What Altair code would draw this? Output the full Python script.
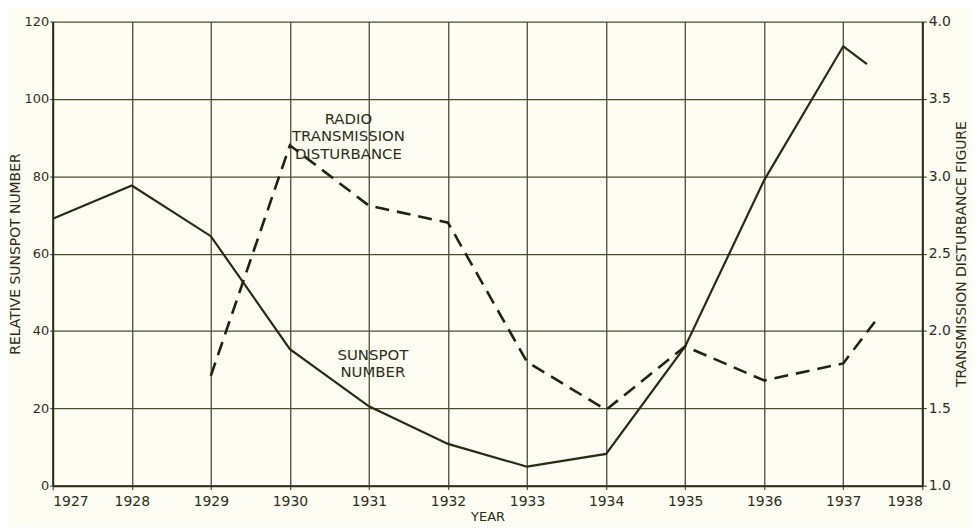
import altair as alt
import pandas as pd

# Sunspot number (left axis)
sun_years = [1927, 1928, 1929, 1930, 1931, 1932, 1933, 1934, 1935, 1936, 1937, 1937.3]
sun_values = [69, 77.6, 64.5, 35.3, 20.5, 10.8, 4.9, 8.2, 36, 79, 113.6, 109]

# Radio transmission disturbance figure (right axis)
dist_years = [1929, 1930, 1931, 1932, 1933, 1934, 1935, 1936, 1937, 1937.4]
dist_values = [1.71, 3.20, 2.81, 2.70, 1.80, 1.49, 1.90, 1.68, 1.79, 2.06]

year_ticks = list(range(1927, 1939))
left_ticks = [0, 20, 40, 60, 80, 100, 120]
right_ticks = [1.0, 1.5, 2.0, 2.5, 3.0, 3.5, 4.0]

label_lines = ["RADIO", "TRANSMISSION", "DISTURBANCE", "SUNSPOT", "NUMBER"]
label_x = [1930.74, 1930.74, 1930.74, 1931.05, 1931.05]
label_y = [94.8, 90.4, 85.8, 33.8, 29.4]

INK = "#2e2e18"
GRID = "#4c4c30"
FONT = "DejaVu Sans"

sun_df = pd.DataFrame({"year": sun_years, "value": sun_values})
dist_df = pd.DataFrame({"year": dist_years, "value": dist_values})
lab_df = pd.DataFrame({"text": label_lines, "x": label_x, "y": label_y})

xscale = alt.Scale(domain=[1927, 1938], nice=False, zero=False)
x_axis = alt.Axis(
    values=year_ticks, format="d", title="YEAR", grid=True,
    gridColor=GRID, gridOpacity=1, gridWidth=1.3,
    domainColor=INK, domainWidth=2, tickColor=INK, tickSize=4,
    labelFont=FONT, labelFontSize=14, labelColor=INK, labelPadding=5,
    titleFont=FONT, titleFontSize=13, titleFontWeight="normal", titleColor=INK,
    titlePadding=2,
)
left_axis = alt.Axis(
    values=left_ticks, title="RELATIVE SUNSPOT NUMBER", grid=True,
    gridColor=GRID, gridOpacity=1, gridWidth=1.3,
    domainColor=INK, domainWidth=2, tickColor=INK, tickSize=3,
    labelFont=FONT, labelFontSize=13, labelColor=INK, labelPadding=1,
    titleFont=FONT, titleFontSize=14, titleFontWeight="normal", titleColor=INK,
    titlePadding=2,
)
right_axis = alt.Axis(
    values=right_ticks, format=".1f", orient="right", grid=False,
    title="TRANSMISSION DISTURBANCE FIGURE", titleAngle=270, titleBaseline="top",
    domainColor=INK, domainWidth=2, tickColor=INK, tickSize=4,
    labelFont=FONT, labelFontSize=14, labelColor=INK, labelPadding=2,
    titleFont=FONT, titleFontSize=14, titleFontWeight="normal", titleColor=INK,
    titlePadding=4,
)

solid = alt.Chart(sun_df).mark_line(color="#2a2a14", strokeWidth=2.2).encode(
    x=alt.X("year:Q", scale=xscale, axis=x_axis),
    y=alt.Y("value:Q", scale=alt.Scale(domain=[0, 120], nice=False), axis=left_axis),
)

texts = alt.Chart(lab_df).mark_text(
    font=FONT, fontSize=15, color=INK, align="center", baseline="middle"
).encode(
    x=alt.X("x:Q", scale=xscale),
    y=alt.Y("y:Q", scale=alt.Scale(domain=[0, 120], nice=False)),
    text="text:N",
)

dashed = alt.Chart(dist_df).mark_line(
    color="#22220f", strokeWidth=2.6, strokeDash=[14, 8]
).encode(
    x=alt.X("year:Q", scale=xscale),
    y=alt.Y("value:Q", scale=alt.Scale(domain=[1, 4], nice=False, zero=False), axis=right_axis),
)

chart = alt.layer(alt.layer(solid, texts), dashed).resolve_scale(
    y="independent"
).properties(
    width=875, height=467,
    background="#fdfdf4",
    autosize=alt.AutoSizeParams(type="none"),
    padding={"left": 45, "top": 12, "right": 50, "bottom": 40},
).configure_view(stroke=None)

chart.save("out.html", embed_options={"renderer": "svg", "actions": False})
